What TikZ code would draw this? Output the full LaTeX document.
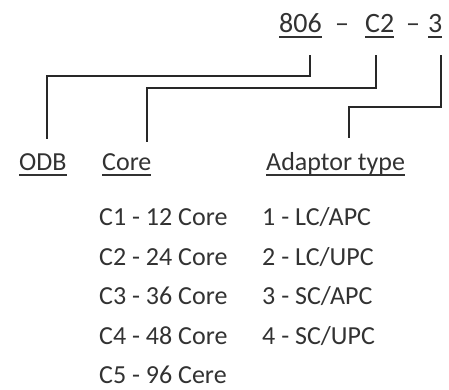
\documentclass[tikz,border=0pt]{standalone}
\usepackage{fontspec}
\setmainfont{Carlito}
\usetikzlibrary{positioning,calc}
\definecolor{inkText}{RGB}{50, 50, 50}
\definecolor{inkLine}{RGB}{40, 40, 40}
\newcommand{\ulword}[1]{\setbox0\hbox{#1}\rlap{\rule[-5pt]{\wd0}{1.5pt}}\box0}

\begin{document}
\begin{tikzpicture}[x=1pt, y=1pt,
    lbl/.style={inner sep=0pt, anchor=base west, text=inkText, font=\fontsize{26pt}{30pt}\selectfont},
    code/.style={lbl, font=\fontsize{28pt}{32pt}\selectfont},
    link/.style={draw=inkLine, line width=1.9pt}]
    \useasboundingbox (0,0) rectangle (449,390);
    % part number
    \node[code] (num806) at (279,357) {\ulword{806}};
    \node[code] (dashA) at (335,357) {–};
    \node[code] (codeC2) at (365,357) {\ulword{C2}};
    \node[code] (dashB) at (406,357) {–};
    \node[code] (code3) at (428,357) {\ulword{3}};
    % headings
    \node[lbl] (odb) at (19,219) {\ulword{ODB}};
    \node[lbl] (core) at (102,219) {\ulword{Core}};
    \node[lbl] (adaptor) at (266,219) {\ulword{Adaptor type}};
    % connectors
    \draw[link] ([xshift=9.7pt,yshift=-17pt]num806.south) -- ++(0,-21) -| ([xshift=4.5pt,yshift=15pt]odb.north);
    \draw[link] ([xshift=-3.5pt,yshift=-17pt]codeC2.south) -- ++(0,-33) -| ([xshift=20pt,yshift=12pt]core.north);
    \draw[link] ([xshift=6pt,yshift=-17pt]code3.south) -- ++(0,-52) -| ([xshift=13.5pt,yshift=15pt]adaptor.north);
    % options
    \foreach \txt [count=\i from 0] in {C1 - 12 Core, C2 - 24 Core, C3 - 36 Core, C4 - 48 Core, C5 - 96 Cere}
        \node[lbl] (coreopt\i) at (99,164-39.5*\i) {\txt};
    \foreach \txt [count=\i from 0] in {1 - LC/APC, 2 - LC/UPC, 3 - SC/APC, 4 - SC/UPC}
        \node[lbl] (adaptopt\i) at (262,164-39.5*\i) {\txt};
\end{tikzpicture}
\end{document}
